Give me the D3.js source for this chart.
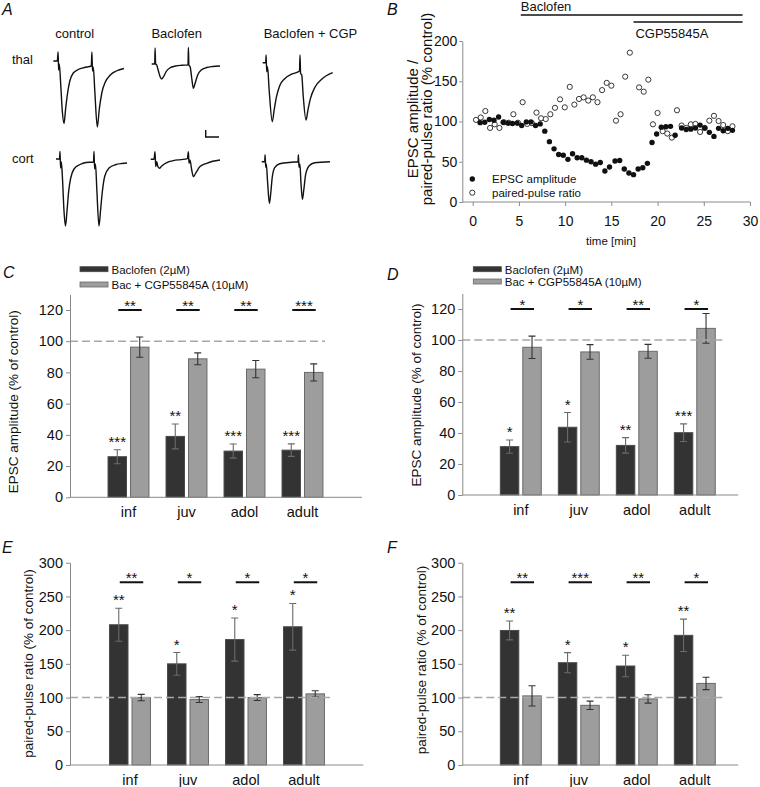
<!DOCTYPE html>
<html><head><meta charset="utf-8">
<script src="https://cdn.jsdelivr.net/npm/d3@7"></script>
<style>body{margin:0;background:#fff}svg{display:block}text{font-family:Arial,"Liberation Sans",sans-serif;fill:#111}</style>
</head><body><svg id="fig" width="760" height="787"></svg>
<script>
// ---------- DATA ----------
const categories = ["inf", "juv", "adol", "adult"];
const seriesNames = ["Baclofen (2µM)", "Bac + CGP55845A (10µM)"];
// Panel C: EPSC amplitude (% of control)
const cBaclofen = [26, 39, 29.6, 30.2];
const cBaclofenErr = [4.5, 8, 4.5, 4];
const cCgp = [96.2, 88.7, 82.1, 80];
const cCgpErr = [6.5, 3.8, 5.5, 5.5];
const cBaclofenSig = ["***", "**", "***", "***"];
const cPairSig = ["**", "**", "**", "***"];
// Panel D
const dBaclofen = [31.2, 43.7, 32, 40.2];
const dBaclofenErr = [4.3, 9.5, 5, 5.7];
const dCgp = [95.3, 92.3, 92.7, 107.5];
const dCgpErr = [7.2, 4.7, 4.5, 9.6];
const dBaclofenSig = ["*", "*", "**", "***"];
const dPairSig = ["*", "*", "**", "*"];
// Panel E: paired-pulse ratio (% of control)
const eBaclofen = [208, 150, 186, 205];
const eBaclofenErr = [24.5, 16.8, 32, 34.6];
const eCgp = [100, 97, 100, 105.5];
const eCgpErr = [4.7, 4.4, 4.3, 4.7];
const eBaclofenSig = ["**", "*", "*", "*"];
const ePairSig = ["**", "*", "*", "*"];
// Panel F
const fBaclofen = [199.5, 151.7, 146.8, 192.3];
const fBaclofenErr = [14, 15, 16, 24];
const fCgp = [102.5, 88.5, 98, 121];
const fCgpErr = [15, 6.2, 6.2, 9.2];
const fBaclofenSig = ["**", "*", "*", "**"];
const fPairSig = ["**", "***", "**", "*"];
const barTicksAmp = [0, 20, 40, 60, 80, 100, 120];
const barTicksPpr = [0, 50, 100, 150, 200, 250, 300];
// Panel B: time course [time (min), % control]
const bEpsc = [[0.8,98.6],[1.3,99],[1.8,102.5],[2.3,101.5],[2.8,105.5],[3.3,99],[3.8,98],[4.3,97.5],[4.8,98],[5.3,95],[5.8,99.5],[6.3,99.5],[6.8,95],[7.3,97],[7.8,88],[8.3,75],[8.8,66],[9.3,59],[9.8,58],[10.3,53],[10.8,60],[11.3,55],[11.8,55],[12.3,52],[12.8,50],[13.3,47],[13.8,49],[14.3,38.5],[14.8,43.5],[15.4,51],[15.9,51.5],[16.4,41],[16.9,36],[17.4,34],[17.9,41],[18.4,42.5],[18.9,48],[19.4,74],[19.9,84.5],[20.4,93],[20.9,93.5],[21.4,94],[21.9,83],[22.6,92],[23.1,90],[23.6,90.5],[24.1,92],[24.6,95.5],[25.1,92],[25.6,86.5],[26.1,81.5],[26.6,91.5],[27.1,88.5],[27.6,91.5],[28.1,89]];
const bPpr = [[0.36,102],[0.87,105],[1.37,113],[1.88,92],[2.38,96.5],[2.89,92],[3.39,99],[3.9,98.5],[4.4,109],[4.9,98.5],[5.4,124],[5.9,97],[6.4,98],[6.9,111],[7.4,104],[7.9,103],[8.4,109],[8.9,117],[9.45,127.5],[9.96,117.6],[10.5,143],[11,121],[11.5,128],[12,130],[12.5,126],[13,130],[13.5,124],[14,139],[14.5,148],[15,144.5],[15.5,101],[16,109],[16.5,155.7],[17,185.5],[18,142.4],[18.5,137],[19,152],[19.5,96.5],[20,110.6],[20.55,88],[21.05,85],[21.55,80],[22.1,114],[22.6,95],[23.1,92],[23.6,96.5],[24.1,97],[24.6,87],[25.1,92],[25.6,101],[26.1,107],[26.6,100.6],[27.1,95.6],[27.6,88],[28.1,94]];
const bXTicks = [0, 5, 10, 15, 20, 25, 30];
const bYTicks = [0, 50, 100, 150, 200];
const bLegend = ["EPSC amplitude", "paired-pulse ratio"];
// Panel A: example traces [time (ms), current (a.u.)]
const thalControl = [[0,0],[4,0],[4.8,9],[5.3,-9],[6,-3],[7.5,-25],[9,-50],[10.7,-62.5],[12.3,-48],[14,-34],[16.5,-20],[20,-12],[25,-8.5],[31,-6.5],[38,-5],[38.6,9],[39.2,-10],[40,-6],[41.5,-30],[44,-66],[46,-48],[48.5,-32],[52,-21],[57,-14],[63,-10],[70.7,-7.5]];
const thalBaclofen = [[0,0],[3,0],[3.4,16],[3.9,0],[5,-1],[7,-8],[8.5,-13],[10,-15],[12,-12.5],[14.5,-7.5],[18,-4],[24,-2],[30,-1.3],[36.3,-1],[36.7,16.5],[37.2,-1],[38.5,-3],[40,-14],[41.7,-24.3],[43.5,-19],[46,-11],[49.5,-6],[55,-3.5],[61,-2.5],[68.3,-2]];
const thalCgp = [[0,0],[3,0],[3.4,7.7],[4,-9],[4.8,-4],[6.5,-28],[9.6,-59],[11.5,-47],[13.8,-34],[17,-23],[22,-16],[29,-11.5],[36.8,-8.3],[37.3,7.7],[37.9,-10.7],[39,-12],[40.5,-33],[43.3,-57.3],[45.3,-47],[47.7,-36],[52.5,-24],[59,-16.5],[70,-10]];
const cortControl = [[0,0],[3.5,0],[4,7.5],[4.6,-9],[5.4,-3],[6.5,-20],[8,-52],[9.5,-67],[11,-52],[12.7,-32],[14.7,-19],[18,-10],[24,-5.5],[30,-3.5],[37.5,-3],[38,7.5],[38.6,-10],[39.5,-5],[40.8,-30],[43,-67],[44.5,-52],[46.3,-33],[48.8,-17],[53,-9],[60,-5.5],[66,-4.5],[71,-4]];
const cortBaclofen = [[0,0],[3.3,0],[4.3,7.7],[5,-7.3],[6,-2.3],[7,-6.7],[8.7,-9],[11,-6.7],[16,-3.3],[22.7,-1.3],[30,-0.3],[36.7,0.7],[37.7,7.7],[38.3,-4],[39.3,-0.7],[41,-10.7],[42.7,-17.3],[45.3,-13.3],[49.3,-7.3],[56,-4],[62,-2],[69.3,-0.7]];
const cortCgp = [[0,0],[3,0],[3.4,7],[4,-5.7],[4.6,-2.3],[5.8,-19],[7.7,-41.7],[9,-32],[10.5,-16],[13,-6],[18,-2],[30,-0.5],[36.3,0],[36.7,7],[37.3,-5.7],[38.2,-2.3],[39.2,-20],[40.7,-37.7],[42,-29],[44,-12.5],[47.5,-4],[53,-1],[68.3,0]];
const traceColumns = ["control", "Baclofen", "Baclofen + CGP"];
const traceRows = ["thal", "cort"];

// ---------- DRAWING ----------
const svg = d3.select("#fig");
const AXIS = "#8a8a8a";
const DARK = "#333333", LIGHT = "#9d9d9d";

function letter(t, x, y) {
  svg.append("text").attr("x", x).attr("y", y).attr("font-size", 16).attr("font-style", "italic").text(t);
}

// ----- Panel A -----
letter("A", 2, 15);
const colCenters = [74.7, 176.7, 310.5];
traceColumns.forEach((t, i) => svg.append("text").attr("x", colCenters[i]).attr("y", 38)
  .attr("text-anchor", "middle").attr("font-size", 13).text(t));
svg.append("text").attr("x", 12).attr("y", 64).attr("font-size", 13).text(traceRows[0]);
svg.append("text").attr("x", 12).attr("y", 163).attr("font-size", 13).text(traceRows[1]);
const tx = d3.scaleLinear().domain([0, 72]).range([0, 72]);
const ty = d3.scaleLinear().domain([-70, 20]).range([70, -20]);
const traceLine = d3.line().x(d => tx(d[0])).y(d => ty(d[1])).curve(d3.curveMonotoneX);
const traces = [
  {d: thalControl, x: 53.3, y: 61}, {d: thalBaclofen, x: 151.7, y: 64}, {d: thalCgp, x: 262.7, y: 62.7},
  {d: cortControl, x: 56, y: 159}, {d: cortBaclofen, x: 150.7, y: 159.3}, {d: cortCgp, x: 261.7, y: 161.7}
];
traces.forEach(t => svg.append("path").attr("transform", `translate(${t.x},${t.y})`)
  .attr("d", traceLine(t.d)).attr("fill", "none").attr("stroke", "#111").attr("stroke-width", 1.4)
  .attr("stroke-linejoin", "round"));
// scale bar
svg.append("path").attr("d", "M205.7,130 V137 H219").attr("fill", "none").attr("stroke", "#111").attr("stroke-width", 1.4);

// ----- Panel B -----
letter("B", 387, 15);
const bx = d3.scaleLinear().domain([0, 30]).range([472.7, 750]);
const by = d3.scaleLinear().domain([0, 200]).range([202, 41]);
svg.append("line").attr("x1", bx(5.2)).attr("x2", bx(29.2)).attr("y1", 15).attr("y2", 15).attr("stroke", "#111").attr("stroke-width", 1.5);
svg.append("line").attr("x1", bx(17.4)).attr("x2", bx(29.2)).attr("y1", 22).attr("y2", 22).attr("stroke", "#111").attr("stroke-width", 1.5);
svg.append("text").attr("x", bx(5.2)).attr("y", 11).attr("font-size", 13).text("Baclofen");
svg.append("text").attr("x", bx(17.6)).attr("y", 38).attr("font-size", 13).text("CGP55845A");
const bxAxis = svg.append("g").attr("transform", "translate(0,202)")
  .call(d3.axisBottom(bx).tickValues(bXTicks).tickSize(4).tickPadding(10));
bxAxis.select(".domain").remove();
svg.append("line").attr("x1", 462.3).attr("x2", 750).attr("y1", 202).attr("y2", 202).attr("stroke", AXIS);
const byAxis = svg.append("g").attr("transform", "translate(462.3,0)")
  .call(d3.axisLeft(by).tickValues(bYTicks).tickSize(3).tickSizeOuter(0).tickPadding(2));
[bxAxis, byAxis].forEach(a => {
  a.selectAll("line").attr("stroke", AXIS); a.select(".domain").attr("stroke", AXIS);
  a.selectAll("text").attr("font-size", 14).attr("fill", "#111").attr("font-family", 'Arial,"Liberation Sans",sans-serif');
});
svg.append("text").attr("x", 611).attr("y", 245).attr("text-anchor", "middle").attr("font-size", 11.5).text("time [min]");
svg.append("text").attr("transform", "translate(412.3,119) rotate(-90)").attr("dy", "0.35em")
  .attr("text-anchor", "middle").attr("font-size", 15).text("EPSC amplitude /");
svg.append("text").attr("transform", "translate(426.7,109) rotate(-90)").attr("dy", "0.35em")
  .attr("text-anchor", "middle").attr("font-size", 15).text("paired-pulse ratio (% control)");
svg.append("g").selectAll("circle").data(bPpr).join("circle")
  .attr("cx", d => bx(d[0])).attr("cy", d => by(d[1])).attr("r", 2.6)
  .attr("fill", "#fff").attr("stroke", "#222").attr("stroke-width", 0.9);
svg.append("g").selectAll("circle").data(bEpsc).join("circle")
  .attr("cx", d => bx(d[0])).attr("cy", d => by(d[1])).attr("r", 2.7).attr("fill", "#111");
svg.append("circle").attr("cx", 472.3).attr("cy", 179).attr("r", 2.7).attr("fill", "#111");
svg.append("circle").attr("cx", 472.3).attr("cy", 192.7).attr("r", 2.6).attr("fill", "#fff").attr("stroke", "#222").attr("stroke-width", 0.9);
svg.append("text").attr("x", 492).attr("y", 183).attr("font-size", 11.5).text(bLegend[0]);
svg.append("text").attr("x", 492).attr("y", 197).attr("font-size", 11.5).text(bLegend[1]);

// ----- Bar panels -----
function barPanel(o) {
  const g = svg.append("g");
  const y = d3.scaleLinear().domain([0, o.yMax]).range([o.y0, o.y0 - o.yMax * o.pxPer]);
  const x0 = d3.scaleBand().domain(categories).range([o.ax + o.bandStart, o.ax + o.bandStart + 232]);
  const x1 = d3.scaleBand().domain([0, 1]).range([0, x0.bandwidth()]).paddingInner(0.178).paddingOuter(0.38);
  const rows = categories.map((c, i) => ({
    c, bacSig: o.bacSig[i], pairSig: o.pairSig[i],
    vals: [{s: 0, v: o.bac[i], e: o.bacErr[i]}, {s: 1, v: o.cgp[i], e: o.cgpErr[i]}]
  }));
  const grp = g.selectAll("g.cat").data(rows).join("g").attr("transform", d => `translate(${x0(d.c)},0)`);
  grp.selectAll("rect").data(d => d.vals).join("rect")
    .attr("x", d => x1(d.s)).attr("width", x1.bandwidth())
    .attr("y", d => y(d.v)).attr("height", d => y(0) - y(d.v))
    .attr("fill", d => d.s ? LIGHT : DARK).attr("stroke", d => d.s ? "#6a6a6a" : "#4a4a4a").attr("stroke-width", 1);
  // error bars
  grp.selectAll("path.err").data(d => d.vals).join("path").attr("class", "err")
    .attr("d", d => {
      const cx = x1(d.s) + x1.bandwidth() / 2, t = y(d.v + d.e), b = y(d.v - d.e);
      return `M${cx - 3.5},${t}H${cx + 3.5}M${cx},${t}V${b}M${cx - 3.5},${b}H${cx + 3.5}`;
    }).attr("fill", "none").attr("stroke", d => d.s ? "#333" : "#6a6a6a").attr("stroke-width", 1.1);
  // significance vs control above baclofen bar
  grp.append("text").attr("x", x1(0) + x1.bandwidth() / 2)
    .attr("y", d => y(d.vals[0].v + d.vals[0].e) - 3)
    .attr("text-anchor", "middle").attr("font-size", 15).text(d => d.bacSig);
  // brackets
  grp.append("line").attr("x1", x1(0) + x1.bandwidth() / 2 + 1).attr("x2", x1(1) + x1.bandwidth() / 2 + 2)
    .attr("y1", y(o.bracket)).attr("y2", y(o.bracket)).attr("stroke", "#111").attr("stroke-width", 2);
  grp.append("text").attr("x", (x1(0) + x1(1)) / 2 + x1.bandwidth() / 2 + 1.5)
    .attr("y", y(o.bracket) + 1).attr("text-anchor", "middle").attr("font-size", 15).text(d => d.pairSig);
  // dashed 100% line
  g.append("line").attr("x1", o.ax).attr("x2", o.dashEnd).attr("y1", y(100)).attr("y2", y(100))
    .attr("stroke", "#a8a8a8").attr("stroke-width", 1.5).attr("stroke-dasharray", "8,4");
  // axes
  const ya = g.append("g").attr("transform", `translate(${o.ax},0)`)
    .call(d3.axisLeft(y).tickValues(o.ticks).tickSize(4).tickSizeOuter(0).tickPadding(3));
  ya.select(".domain").attr("stroke", AXIS);
  ya.selectAll("line").attr("stroke", AXIS);
  ya.selectAll("text").attr("font-size", 14.5).attr("fill", "#111").attr("font-family", 'Arial,"Liberation Sans",sans-serif');
  g.append("line").attr("x1", o.ax).attr("x2", o.xEnd).attr("y1", o.y0).attr("y2", o.y0).attr("stroke", AXIS);
  const xa = g.append("g").attr("transform", `translate(0,${o.y0})`)
    .call(d3.axisBottom(x0).tickSize(0).tickPadding(9.5));
  xa.select(".domain").remove();
  xa.selectAll("text").attr("font-size", 14.5).attr("fill", "#111").attr("font-family", 'Arial,"Liberation Sans",sans-serif');
  g.append("text").attr("transform", `translate(${o.titleX},${o.titleY}) rotate(-90)`).attr("dy", "0.35em")
    .attr("text-anchor", "middle").attr("font-size", 13.5).text(o.title);
  if (o.legend) {
    seriesNames.forEach((s, i) => {
      g.append("rect").attr("x", o.legend[0]).attr("y", o.legend[1] + i * o.legend[2]).attr("width", 28).attr("height", 5)
        .attr("fill", i ? LIGHT : DARK).attr("stroke", i ? "#6a6a6a" : "#4a4a4a").attr("stroke-width", 0.8);
      g.append("text").attr("x", o.legend[0] + 31.5).attr("y", o.legend[1] + i * o.legend[2] + 7)
        .attr("font-size", 11.5).text(s);
    });
  }
}

letter("C", 3, 278);
barPanel({ax: 70, y0: 497.3, pxPer: 1.561, yMax: 130, ticks: barTicksAmp, bandStart: 29.5, xEnd: 362, dashEnd: 325,
  bac: cBaclofen, bacErr: cBaclofenErr, cgp: cCgp, cgpErr: cCgpErr, bacSig: cBaclofenSig, pairSig: cPairSig,
  bracket: 120, title: "EPSC amplitude (% of control)", titleX: 13.5, titleY: 401.7, legend: [80, 266.7, 15.3]});
letter("D", 387, 280);
barPanel({ax: 462.3, y0: 495, pxPer: 1.55, yMax: 130, ticks: barTicksAmp, bandStart: 29.5, xEnd: 738.3, dashEnd: 723,
  bac: dBaclofen, bacErr: dBaclofenErr, cgp: dCgp, cgpErr: dCgpErr, bacSig: dBaclofenSig, pairSig: dPairSig,
  bracket: 120, title: "EPSC amplitude (% of control)", titleX: 416.7, titleY: 395, legend: [473.3, 266.7, 12.3]});
letter("E", 2, 553);
barPanel({ax: 70, y0: 765, pxPer: 0.6743, yMax: 300, ticks: barTicksPpr, bandStart: 31, xEnd: 363.3, dashEnd: 331.7,
  bac: eBaclofen, bacErr: eBaclofenErr, cgp: eCgp, cgpErr: eCgpErr, bacSig: eBaclofenSig, pairSig: ePairSig,
  bracket: 271, title: "paired-pulse ratio (% of control)", titleX: 28.5, titleY: 663.5});
letter("F", 387, 553);
barPanel({ax: 462.3, y0: 765, pxPer: 0.6743, yMax: 300, ticks: barTicksPpr, bandStart: 29.5, xEnd: 738.3, dashEnd: 723,
  bac: fBaclofen, bacErr: fBaclofenErr, cgp: fCgp, cgpErr: fCgpErr, bacSig: fBaclofenSig, pairSig: fPairSig,
  bracket: 271, title: "paired-pulse ratio (% of control)", titleX: 421.7, titleY: 660});
</script></body></html>
